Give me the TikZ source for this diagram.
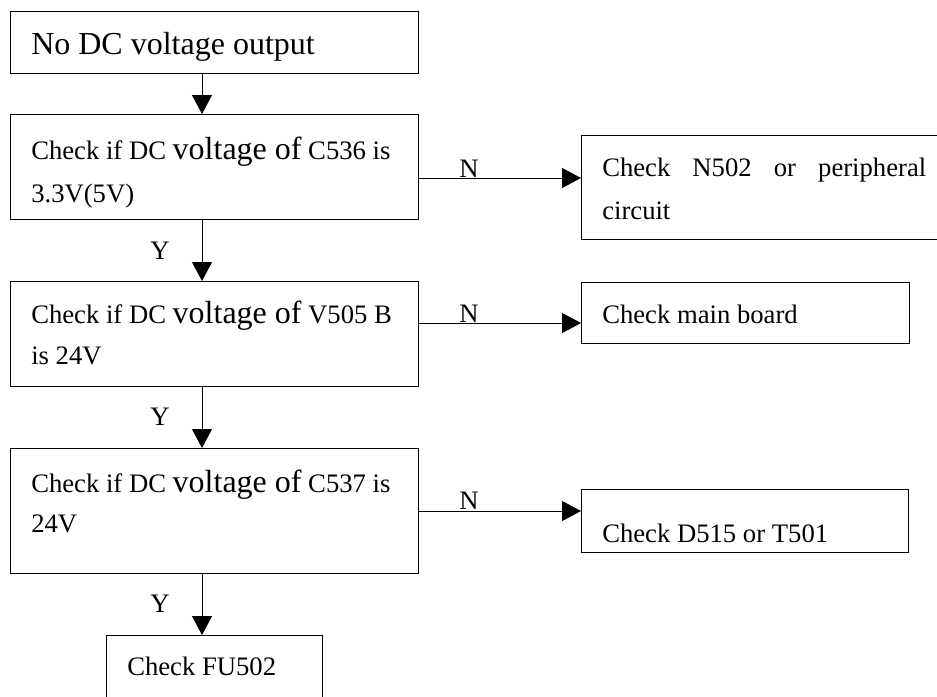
\documentclass[tikz,border=0pt]{standalone}
\usepackage{fontspec}
\setmainfont{Liberation Serif}
\usetikzlibrary{arrows.meta}
\newcommand\smf{\fontsize{20}{24}\selectfont}
\newcommand\bgf{\fontsize{24}{28}\selectfont}
\begin{document}
\begin{tikzpicture}[x=0.75pt,y=-0.75pt,
  box/.style={draw,line width=0.75pt,rectangle,inner sep=0pt,anchor=north west},
  txt/.style={anchor=base west,inner sep=0pt,font=\smf},
  lbl/.style={anchor=base,inner sep=0pt,font=\smf},
  arr/.style={line width=0.75pt,-{Triangle[width=15pt,length=14.25pt]}}]
\useasboundingbox (0,0) rectangle (937,696);
% boxes
\node[box,minimum width=306pt,minimum height=46.5pt] (b1) at (10,11) {};
\node[box,minimum width=306pt,minimum height=78.75pt] (b2) at (10,114) {};
\node[box,minimum width=306pt,minimum height=78.75pt] (b3) at (10,281) {};
\node[box,minimum width=306pt,minimum height=93.75pt] (b4) at (10,448) {};
\node[box,minimum width=162pt,minimum height=48.75pt] (b5) at (106,635) {};
\node[box,minimum width=270.75pt,minimum height=78pt] (n1) at (581,135) {};
\node[box,minimum width=246pt,minimum height=45.75pt] (n2) at (581,282) {};
\node[box,minimum width=245.25pt,minimum height=47.25pt] (n3) at (581,489) {};
% texts
\node[txt,font=\bgf] (t1) at (31,54) {No DC voltage output};
\node[txt] (t2a) at (31,159) {Check if DC {\bgf voltage of} C536 is};
\node[txt] (t2b) at (31,202) {3.3V(5V)};
\node[txt] (t3a) at (31,323) {Check if DC {\bgf voltage of} V505 B};
\node[txt] (t3b) at (31,364) {is 24V};
\node[txt] (t4a) at (31,492) {Check if DC {\bgf voltage of} C537 is};
\node[txt] (t4b) at (31,532) {24V};
\node[txt] (t5) at (127,675) {Check FU502};
\node[txt] (u1a) at (602,176) {\makebox[243pt][s]{Check N502 or peripheral}};
\node[txt] (u1b) at (602,219) {circuit};
\node[txt] (u2) at (602,323) {Check main board};
\node[txt] (u3) at (602,542) {Check D515 or T501};
% labels
\node[lbl] (y1) at (160,259) {Y};
\node[lbl] (y2) at (160,425) {Y};
\node[lbl] (y3) at (160,612) {Y};
\node[lbl] (m1) at (469,177) {N};
\node[lbl] (m2) at (469,322) {N};
\node[lbl] (m3) at (469,509) {N};
% connectors
\coordinate (vx) at (202,0);
\coordinate (h1) at (0,178);
\coordinate (h2) at (0,323);
\coordinate (h3) at (0,511);
\draw[arr] (b1.south -| vx) -- (b2.north -| vx);
\draw[arr] (b2.south -| vx) -- (b3.north -| vx);
\draw[arr] (b3.south -| vx) -- (b4.north -| vx);
\draw[arr] (b4.south -| vx) -- (b5.north -| vx);
\draw[arr] (b2.east |- h1) -- (n1.west |- h1);
\draw[arr] (b3.east |- h2) -- (n2.west |- h2);
\draw[arr] (b4.east |- h3) -- (n3.west |- h3);
\end{tikzpicture}
\end{document}
